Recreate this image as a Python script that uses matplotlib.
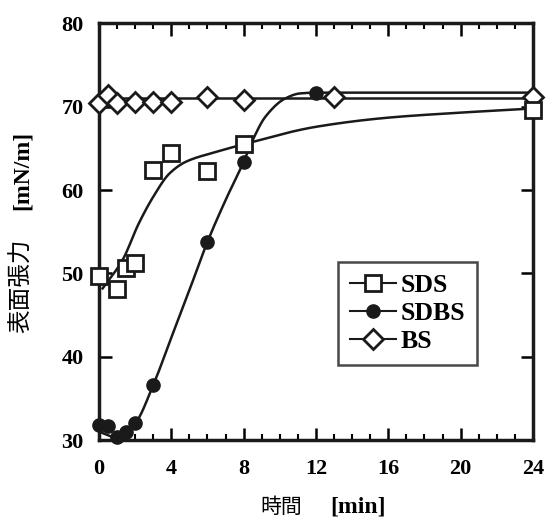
import numpy as np
import matplotlib
matplotlib.use("Agg")
import matplotlib.pyplot as plt
from matplotlib.lines import Line2D
from matplotlib.ticker import MultipleLocator

# measured data
sds_t = [0, 1, 1.5, 2, 3, 4, 6, 8, 24]
sds_v = [49.7, 48.1, 50.7, 51.3, 62.4, 64.5, 62.3, 65.5, 69.6]
sdbs_t = [0, 0.5, 1, 1.5, 2, 3, 6, 8, 12]
sdbs_v = [31.8, 31.7, 30.4, 31.0, 32.0, 36.6, 53.8, 63.4, 71.6]
bs_t = [0, 0.5, 1, 2, 3, 4, 6, 8, 13, 24]
bs_v = [70.5, 71.4, 70.4, 70.6, 70.6, 70.6, 71.2, 70.8, 71.2, 71.2]

# fitted curves (anchor values)
sds_fit_t = [0.2, 1.3, 2.2, 3.0, 3.9, 4.8, 6.5, 8, 12, 16, 20, 24]
sds_fit_v = [48.2, 51.6, 56.0, 59.2, 62.0, 63.4, 64.6, 65.5, 67.6, 68.7, 69.3, 69.8]
sdbs_fit_t = [0, 1, 2, 3, 4, 5, 6, 7, 8, 8.5, 9.2, 10.3, 11.1, 12, 24]
sdbs_fit_v = [31.0, 30.3, 32.0, 36.6, 42.3, 48.0, 53.8, 58.8, 63.4, 66.0, 68.8, 71.0, 71.6, 71.7, 71.7]
bs_fit_t = [0, 24]
bs_fit_v = [71.1, 71.1]

labels = ["SDS", "SDBS", "BS"]
xticks = [0, 4, 8, 12, 16, 20, 24]
yticks = [30, 40, 50, 60, 70, 80]


def pchip(x, y, xn):
    x = np.asarray(x, float); y = np.asarray(y, float)
    h = np.diff(x); d = np.diff(y) / h
    n = len(x)
    m = np.zeros(n)
    for k in range(1, n - 1):
        if d[k - 1] * d[k] > 0:
            w1 = 2 * h[k] + h[k - 1]; w2 = h[k] + 2 * h[k - 1]
            m[k] = (w1 + w2) / (w1 / d[k - 1] + w2 / d[k])
    m[0] = d[0]; m[-1] = d[-1]
    idx = np.clip(np.searchsorted(x, xn) - 1, 0, n - 2)
    t = (xn - x[idx]) / h[idx]
    h00 = 2 * t**3 - 3 * t**2 + 1; h10 = t**3 - 2 * t**2 + t
    h01 = -2 * t**3 + 3 * t**2; h11 = t**3 - t**2
    return h00 * y[idx] + h10 * h[idx] * m[idx] + h01 * y[idx + 1] + h11 * h[idx] * m[idx + 1]


fig = plt.figure(figsize=(5.5, 5.22), dpi=100)
ax = fig.add_axes([0.18, 0.157, 0.789, 0.798])

serif = "Liberation Serif"
ink = "#1a1a1a"
lw = 1.8

for ft, fv in [(sds_fit_t, sds_fit_v), (sdbs_fit_t, sdbs_fit_v), (bs_fit_t, bs_fit_v)]:
    xs = np.linspace(ft[0], ft[-1], 400)
    ax.plot(xs, pchip(ft, fv, xs), color=ink, lw=lw, zorder=2)

ms_kw = dict(linestyle="none", clip_on=False, zorder=3)
ax.plot(bs_t, bs_v, marker="D", ms=10.5, mfc="white", mec=ink, mew=2, **ms_kw)
ax.plot(sds_t, sds_v, marker="s", ms=11, mfc="white", mec=ink, mew=2, **ms_kw)
ax.plot(sdbs_t, sdbs_v, marker="o", ms=9.5, mfc=ink, mec=ink, mew=1, **ms_kw)

ax.set_xlim(0, 24)
ax.set_ylim(30, 80)
ax.set_xticks(xticks)
ax.set_yticks(yticks)
ax.xaxis.set_minor_locator(MultipleLocator(1))
ax.tick_params(which="major", direction="in", length=9, width=1.8, top=True, right=True)
ax.tick_params(which="minor", direction="in", length=4.5, width=1.5, top=True, bottom=True)
ax.tick_params(axis="x", which="major", pad=14)
ax.tick_params(axis="y", which="major", pad=11)
for s in ax.spines.values():
    s.set_linewidth(2.5)
    s.set_color(ink)
for lab in ax.get_xticklabels() + ax.get_yticklabels():
    lab.set_fontfamily(serif)
    lab.set_fontweight("bold")
    lab.set_fontsize(16)

handles = [
    Line2D([], [], color=ink, lw=1.5, marker="s", ms=11, mfc="white", mec=ink, mew=2),
    Line2D([], [], color=ink, lw=1.5, marker="o", ms=9.5, mfc=ink, mec=ink),
    Line2D([], [], color=ink, lw=1.5, marker="D", ms=10, mfc="white", mec=ink, mew=2),
]
leg = ax.legend(handles, labels, loc="upper left", bbox_to_anchor=(0.551, 0.427),
                prop={"family": serif, "weight": "bold", "size": 18.5},
                frameon=True, fancybox=False, handlelength=1.8, handletextpad=0.2,
                borderpad=0.45, labelspacing=0.2, borderaxespad=0)
leg.get_frame().set_edgecolor(ink)
leg.get_frame().set_linewidth(1.8)

# axis labels (Japanese + bold serif unit)
fig.text(302 / 550, (522 - 507) / 522, "時間", family="Noto Sans CJK JP", fontsize=15,
         ha="right", va="center")
fig.text(330 / 550, (522 - 507) / 522, "[min]", family=serif, fontweight="bold", fontsize=17,
         ha="left", va="center")
fig.text(22 / 550, (522 - 333) / 522, "表面張力", family="Noto Sans CJK JP", fontsize=17,
         rotation=90, ha="center", va="bottom")
fig.text(22 / 550, (522 - 210) / 522, "[mN/m]", family=serif, fontweight="bold", fontsize=17,
         rotation=90, ha="center", va="bottom")

fig.savefig("out.png", dpi=100)
